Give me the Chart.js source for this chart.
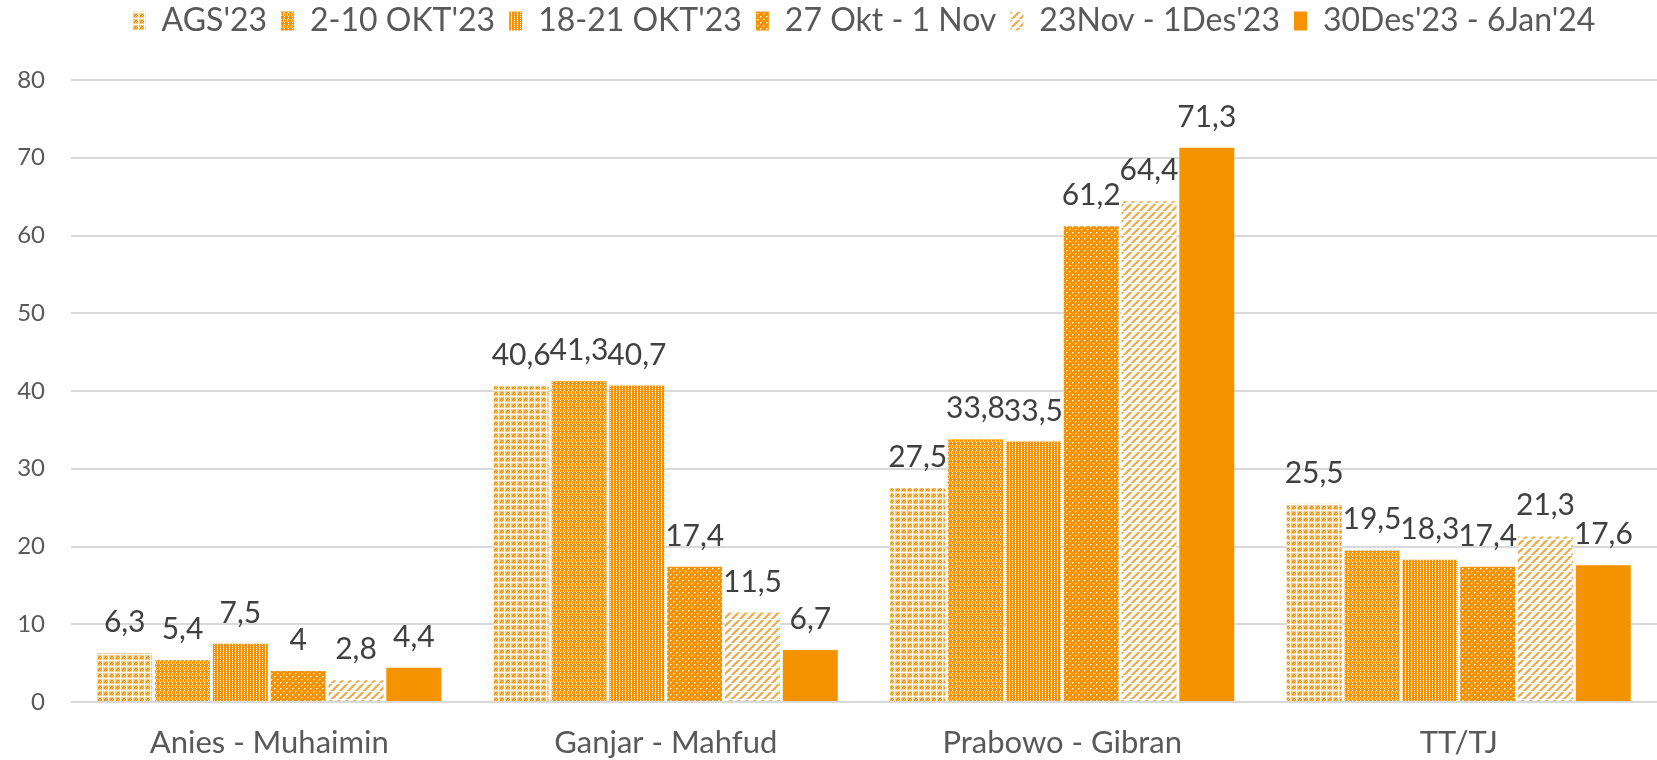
<!DOCTYPE html>
<html>
<head>
<meta charset="utf-8">
<script src="https://cdn.jsdelivr.net/npm/chart.js@4/dist/chart.umd.min.js"></script>
<style>
  html, body { margin: 0; padding: 0; background: #fff; }
  #wrap { width: 1657px; height: 760px; }
</style>
</head>
<body>
<div id="wrap"><canvas id="chart1"></canvas></div>
<script>
var categories = ["Anies - Muhaimin", "Ganjar - Mahfud", "Prabowo - Gibran", "TT/TJ"];
var periods = ["AGS'23", "2-10 OKT'23", "18-21 OKT'23", "27 Okt - 1 Nov", "23Nov - 1Des'23", "30Des'23 - 6Jan'24"];
var ags23 = [6.3, 40.6, 27.5, 25.5];
var okt2_10 = [5.4, 41.3, 33.8, 19.5];
var okt18_21 = [7.5, 40.7, 33.5, 18.3];
var okt27_nov1 = [4, 17.4, 61.2, 17.4];
var nov23_des1 = [2.8, 11.5, 64.4, 21.3];
var des30_jan6 = [4.4, 6.7, 71.3, 17.6];
var yTicks = [0, 10, 20, 30, 40, 50, 60, 70, 80];

var ORANGE = "rgb(245,146,0)";
var colorMap = { o: ORANGE, w: "#ffffff", l: "rgb(251,200,130)", m: "rgb(248,172,70)" };

// build a canvas pattern from a small pixel grid
function makePattern(rows) {
    var c = document.createElement("canvas");
    c.width = rows[0].length;
    c.height = rows.length;
    var g = c.getContext("2d");
    for (var y = 0; y < rows.length; y++) {
        for (var x = 0; x < rows[y].length; x++) {
            g.fillStyle = colorMap[rows[y][x]];
            g.fillRect(x, y, 1, 1);
        }
    }
    return g.createPattern(c, "repeat");
}

var fills = [
    makePattern(["wwwwww", "wlllll", "wllool", "wloolo", "wlolol", "wlllll"]),
    makePattern(["wooowooo", "owowowow", "ooowooow", "owowowow", "wooowooo", "oooooooo"]),
    makePattern(["owoowo", "owoooo", "owoowo", "oloooo"]),
    makePattern(["oooooo", "owlooo", "oloooo", "oooooo", "oooowl", "oooolo"]),
    makePattern(["wwwwwmmm", "wwwwmmmw", "wwwmmmww", "wwwwwwww", "wmmmwwww", "mmmwwwww", "mmwwwwwm", "mwwwwwmm"]),
    ORANGE
];

var series = [ags23, okt2_10, okt18_21, okt27_nov1, nov23_des1, des30_jan6];
var datasets = series.map(function (vals, i) {
    return {
        label: periods[i],
        data: vals,
        backgroundColor: fills[i],
        borderWidth: 0,
        categoryPercentage: 0.875,
        barPercentage: 0.95
    };
});

var FONT = "Lato, 'DejaVu Sans', sans-serif";

var valueLabels = {
    id: "valueLabels",
    afterDatasetsDraw: function (chart) {
        var ctx = chart.ctx;
        ctx.save();
        ctx.font = "30px " + FONT;
        ctx.fillStyle = "#404040";
        ctx.textAlign = "center";
        ctx.textBaseline = "alphabetic";
        chart.data.datasets.forEach(function (ds, i) {
            chart.getDatasetMeta(i).data.forEach(function (bar, j) {
                var txt = String(ds.data[j]).replace(".", ",");
                ctx.fillText(txt, bar.x, bar.y - 21);
            });
        });
        ctx.restore();
    }
};

// legend row sits high, plot area starts at y=80
var legendHeight = {
    id: "legendHeight",
    afterInit: function (chart) {
        var lg = chart.legend;
        var fit = lg.fit;
        lg.fit = function () {
            fit.call(this);
            this.height = 89;
        };
    }
};

var ctx = document.getElementById("chart1").getContext("2d");
var myChart = new Chart(ctx, {
    type: "bar",
    data: { labels: categories, datasets: datasets },
    plugins: [valueLabels, legendHeight],
    options: {
        responsive: true,
        maintainAspectRatio: false,
        animation: false,
        layout: { padding: { left: 0, right: 0, top: -9, bottom: 0 } },
        plugins: {
            legend: {
                position: "top",
                fullSize: false,
                labels: {
                    boxWidth: 13,
                    boxHeight: 19,
                    padding: 14,
                    color: "#595959",
                    font: { family: FONT, size: 32 }
                }
            },
            tooltip: { enabled: false }
        },
        scales: {
            x: {
                grid: { display: false },
                border: { display: false },
                ticks: { color: "#595959", font: { family: FONT, size: 31 }, padding: 14 },
                afterFit: function (s) { s.height = 58; }
            },
            y: {
                min: 0,
                max: 80,
                afterBuildTicks: function (s) {
                    s.ticks = yTicks.map(function (v) { return { value: v }; });
                },
                grid: { color: "#d9d9d9", lineWidth: 2, drawTicks: false },
                border: { display: false },
                ticks: { color: "#595959", font: { family: FONT, size: 24 }, padding: 26 },
                afterFit: function (s) { s.width = 71; }
            }
        }
    }
});
</script>
</body>
</html>
